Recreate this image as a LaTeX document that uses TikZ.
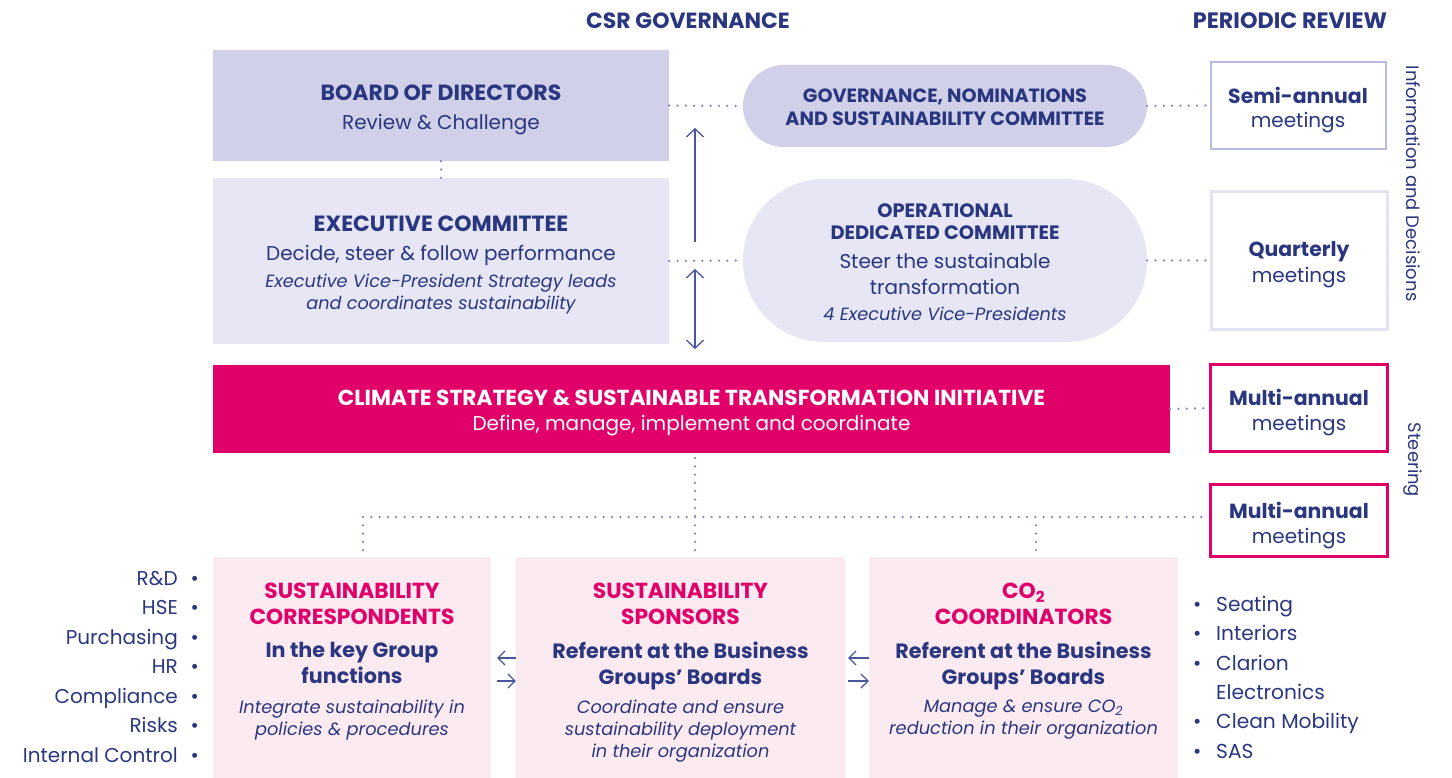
\documentclass[tikz,border=0pt]{standalone}
\usepackage{fontspec}
\setmainfont{Poppins}
\usetikzlibrary{arrows.meta,calc}
\definecolor{navy}{HTML}{2A3780}
\definecolor{lavA}{HTML}{D0D0E8}
\definecolor{lavB}{HTML}{E6E6F4}
\definecolor{semiB}{HTML}{B9BADF}
\definecolor{quartB}{HTML}{E3E3F2}
\definecolor{mag}{HTML}{E1006A}
\definecolor{pinkbg}{HTML}{FCEAF1}
\definecolor{dotc}{HTML}{7F83C2}
\definecolor{arrc}{HTML}{4B559C}
\newcommand\fsz[2]{\fontsize{#1}{#2}\selectfont}
\tikzset{
  box/.style={rectangle, inner sep=0pt, draw=none},
  meetbox/.style={rectangle, inner sep=0pt, fill=white, line width=2.5pt},
  txt/.style={inner sep=0pt, align=center, text=navy, anchor=north},
  dots/.style={draw=dotc, line width=2.5pt, line cap=round, dash pattern=on 0pt off 8.3pt},
  arr/.style={draw=arrc, line width=1.3pt, -{Straight Barb[length=8pt,width=17pt]}},
  arrtwo/.style={draw=arrc, line width=1.3pt, {Straight Barb[length=8pt,width=17pt]}-{Straight Barb[length=8pt,width=17pt]}},
  arrs/.style={draw=arrc, line width=1.2pt, -{Straight Barb[length=7pt,width=14pt]}},
}
\begin{document}
\begin{tikzpicture}[x=1pt,y=-1pt]
\useasboundingbox (0,0) rectangle (1452,778);
% boxes
\node[box, fill=lavA, minimum width=456pt, minimum height=111pt] (board) at (441,105.5) {};
\node[box, fill=lavB, minimum width=456pt, minimum height=166pt] (excom) at (441,261) {};
\node[box, fill=lavA, minimum width=404pt, minimum height=82pt, rounded corners=41pt] (gov) at (945,106) {};
\node[box, fill=lavB, minimum width=404pt, minimum height=163pt, rounded corners=81pt] (oper) at (945,260.5) {};
\node[meetbox, draw=semiB, minimum width=175pt, minimum height=87pt] (semi) at (1298.5,105.5) {};
\node[meetbox, draw=quartB, minimum width=176pt, minimum height=138pt] (quart) at (1299.5,260.5) {};
\node[box, fill=mag, minimum width=957pt, minimum height=88pt] (init) at (691.5,409) {};
\node[meetbox, draw=mag, minimum width=177pt, minimum height=87pt] (multi1) at (1299,408) {};
\node[meetbox, draw=mag, minimum width=177pt, minimum height=72pt] (multi2) at (1299,520.5) {};
\node[box, fill=pinkbg, minimum width=278pt, minimum height=221pt] (corr) at (352,667.5) {};
\node[box, fill=pinkbg, minimum width=329pt, minimum height=221pt] (spons) at (680.5,667.5) {};
\node[box, fill=pinkbg, minimum width=309pt, minimum height=221pt] (coord) at (1023.5,667.5) {};
% dotted connectors
\draw[dots] (board.east) -- (gov.west);
\draw[dots] (excom.east) -- (oper.west);
\draw[dots] (gov.east) -- (semi.west);
\draw[dots] (oper.east) -- (quart.west);
\draw[dots] (init.east) -- (multi1.west);
\draw[dots] (board.south) -- (excom.north);
\coordinate (idrop) at (695,458);
\coordinate (hub) at (695,517);
\coordinate (jl) at (363,517);
\coordinate (jr) at (1036,517);
\draw[dots] (idrop) -- (hub);
\draw[dots] (jl) -- (multi2.west |- jl);
\draw[dots] ([yshift=-8.3pt]jl) -- (jl |- corr.north);
\draw[dots] ([yshift=-8.3pt]hub) -- (hub |- spons.north);
\draw[dots] ([yshift=-8.3pt]jr) -- (jr |- coord.north);
% arrows
\coordinate (u1) at (695,242);
\coordinate (u2) at (695,128);
\draw[arr] (u1) -- (u2);
\coordinate (d1) at (695,269);
\coordinate (d2) at (695,349);
\draw[arrtwo] (d1) -- (d2);
\draw[arrs] ($(spons.west)+(0,-9.5)$) -- ($(corr.east)+(6,-9.5)$);
\draw[arrs] ($(corr.east)+(6,13.5)$) -- ($(spons.west)+(0,13.5)$);
\draw[arrs] ($(coord.west)+(0,-9.5)$) -- ($(spons.east)+(3,-9.5)$);
\draw[arrs] ($(spons.east)+(3,13.5)$) -- ($(coord.west)+(0,13.5)$);
% titles
\node[txt, font=\bfseries\fsz{22}{26}] (t1) at (688,12.3) {CSR GOVERNANCE};
\node[txt, font=\bfseries\fsz{22.3}{26}] (t2) at (1290,12.3) {PERIODIC REVIEW};
% board
\node[txt, font=\bfseries\fsz{22}{26}] (boardT) at (441,84.3) {BOARD OF DIRECTORS};
\node[txt, font=\fsz{20}{26}] (boardS) at (441,114.5) {Review \& Challenge};
% excom
\node[txt, font=\bfseries\fsz{22}{26}] (excomT) at (441,215.3) {EXECUTIVE COMMITTEE};
\node[txt, font=\fsz{20}{26}] (excomS) at (441,245.5) {Decide, steer \& follow performance};
\node[txt, font=\itshape\fsz{17.7}{22}] (excomI) at (441,273.8) {Executive Vice-President Strategy leads\\and coordinates sustainability};
% gov
\node[txt, font=\bfseries\fsz{19.2}{23}] (govT) at (945,88.3) {GOVERNANCE, NOMINATIONS\\AND SUSTAINABILITY COMMITTEE};
% oper
\node[txt, font=\bfseries\fsz{19.4}{22}] (operT) at (945,203.2) {OPERATIONAL\\DEDICATED COMMITTEE};
\node[txt, font=\fsz{20}{26}] (operS) at (945,253.5) {Steer the sustainable\\transformation};
\node[txt, font=\itshape\fsz{17.7}{22}] (operI) at (945,306.8) {4 Executive Vice-Presidents};
% meetings
\node[txt, font=\bfseries\fsz{20.4}{26}] (semiT) at (1298,86.5) {Semi-annual};
\node[txt, font=\fsz{20}{26}] (semiS) at (1298,112.3) {meetings};
\node[txt, font=\bfseries\fsz{20.4}{26}] (quartT) at (1299,241.5) {Quarterly};
\node[txt, font=\fsz{20}{26}] (quartS) at (1299,267.3) {meetings};
\node[txt, font=\bfseries\fsz{20.4}{26}] (m1T) at (1299,388.5) {Multi-annual};
\node[txt, font=\fsz{20}{26}] (m1S) at (1299,415.3) {meetings};
\node[txt, font=\bfseries\fsz{20.4}{26}] (m2T) at (1299,501.5) {Multi-annual};
\node[txt, font=\fsz{20}{26}] (m2S) at (1299,528.3) {meetings};
% initiative
\node[txt, text=white, font=\bfseries\fsz{21.7}{26}] (initT) at (691.5,389.4) {CLIMATE STRATEGY \& SUSTAINABLE TRANSFORMATION INITIATIVE};
\node[txt, text=white, font=\fsz{20}{26}] (initS) at (691.5,415.5) {Define, manage, implement and coordinate};
% vertical labels
\node[txt, anchor=center, rotate=-90, font=\fsz{18}{20}] (vt1) at (1413,183.5) {Information and Decisions};
\node[txt, anchor=center, rotate=-90, font=\fsz{18}{20}] (vt2) at (1413,460) {Steering};
% bottom boxes
\node[txt, text=mag, font=\bfseries\fsz{21.8}{26}] (corrT) at (352,582.4) {SUSTAINABILITY\\CORRESPONDENTS};
\node[txt, font=\bfseries\fsz{20.7}{26}] (corrS) at (352,641.8) {In the key Group\\functions};
\node[txt, font=\itshape\fsz{17.8}{22}] (corrI) at (352,699.8) {Integrate sustainability in\\policies \& procedures};
\node[txt, text=mag, font=\bfseries\fsz{21.8}{26}] (sponsT) at (680.5,582.4) {SUSTAINABILITY\\SPONSORS};
\node[txt, font=\bfseries\fsz{20.7}{26}] (sponsS) at (680.5,641.8) {Referent at the Business\\Groups’ Boards};
\node[txt, font=\itshape\fsz{17.8}{22}] (sponsI) at (680.5,699.8) {Coordinate and ensure\\sustainability deployment\\in their organization};
\node[txt, text=mag, font=\bfseries\fsz{21.8}{26}] (coordT) at (1023.5,582.4) {CO\textsubscript{2}\\COORDINATORS};
\node[txt, font=\bfseries\fsz{20.7}{26}] (coordS) at (1023.5,641.8) {Referent at the Business\\Groups’ Boards};
\node[txt, font=\itshape\fsz{17.8}{22}] (coordI) at (1023.5,699.8) {Manage \& ensure CO\textsubscript{2}\\reduction in their organization};
% lists
\node[txt, anchor=north east, align=right, font=\fsz{20}{29.5}] (flist) at (199,571) {R\&D\makebox[21pt][r]{\textbullet}\\HSE\makebox[21pt][r]{\textbullet}\\Purchasing\makebox[21pt][r]{\textbullet}\\HR\makebox[21pt][r]{\textbullet}\\Compliance\makebox[21pt][r]{\textbullet}\\Risks\makebox[21pt][r]{\textbullet}\\Internal Control\makebox[21pt][r]{\textbullet}};
\node[txt, anchor=north west, align=left, font=\fsz{20.2}{29.3}] (blist) at (1193,596) {\makebox[23pt][l]{\textbullet}Seating\\\makebox[23pt][l]{\textbullet}Interiors\\\makebox[23pt][l]{\textbullet}Clarion\\\hspace*{23pt}Electronics\\\makebox[23pt][l]{\textbullet}Clean Mobility\\\makebox[23pt][l]{\textbullet}SAS};
\end{tikzpicture}
\end{document}
